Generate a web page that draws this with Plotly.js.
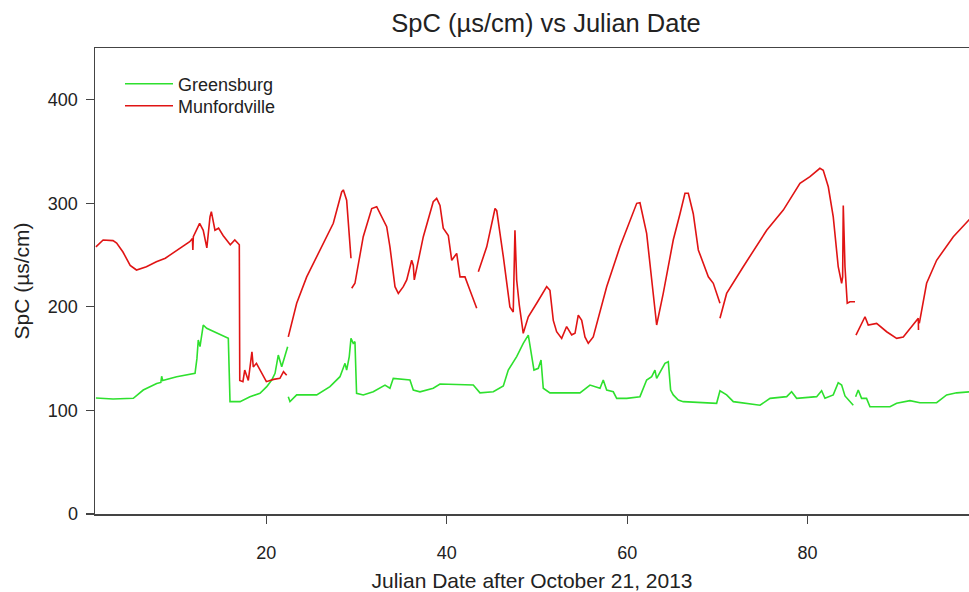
<!DOCTYPE html>
<html>
<head>
<meta charset="utf-8">
<script src="https://cdn.plot.ly/plotly-3.0.1.min.js"></script>
<style>html,body{margin:0;padding:0;background:#fff;overflow:hidden;}</style>
</head>
<body>
<div id="chart" style="width:969px;height:592px;"></div>
<script>
// Julian day after October 21, 2013 (null = gap in record)
const daysGreensburg = [
  1.1, 1.55, 3.0, 5.25, 6.35, 7.84, 8.3, 8.39, 8.5, 10.06, 12.09, 12.3, 12.45, 12.64, 13.0, 13.38, 14.49, 15.78, 15.97, 17.08, 18.18, 19.29, 20.04, 20.59, 20.96, 21.32, 21.7, 22.36,
  null,
  22.43, 22.62, 23.36, 25.58, 27.05, 28.16, 28.72, 28.9, 29.19, 29.38, 29.63, 29.82, 30.0, 30.74, 31.85, 33.15, 33.7, 34.07, 35.92, 36.29, 37.03, 38.5, 39.25, 42.94, 43.68, 45.16, 46.27, 46.82, 47.75, 48.48, 49.04, 49.41, 49.67, 50.15, 50.45, 50.7, 51.44, 54.77, 55.88, 56.99, 57.35, 57.73, 58.46, 58.84, 59.95, 61.42, 62.16, 62.72, 63.08, 63.27, 64.19, 64.56, 64.82, 65.11, 65.67, 66.22, 69.18, 69.92, 70.29, 71.03, 71.77, 74.73, 75.84, 77.69, 78.23, 78.79, 81.01, 81.56, 81.93, 82.85, 83.4, 83.78, 84.15, 85.07,
  null,
  85.33, 85.62, 85.99, 86.54, 86.92, 89.14, 89.88, 91.35, 92.46, 94.31, 95.42, 96.53, 98.0
];
const spcGreensburg = [
  112, 111.7, 111, 111.7, 119.7, 126, 127, 133, 129, 132.6, 135.9, 150, 168, 161.6, 182.5, 179.3, 174.5, 169.6, 108.5, 108.5, 113.3, 116.6, 123, 129.4, 135.9, 153.5, 142.2, 161.6,
  null,
  113.3, 108.5, 115, 115, 123, 132.6, 145.5, 139, 152, 169.6, 164.8, 166.4, 116.6, 115, 118, 124.5, 121.4, 131, 129.4, 119.7, 118, 121.4, 125.5, 124.5, 117, 118, 123.6, 139, 152, 164.8, 172.8, 155, 139, 140.7, 148.7, 121.4, 117, 117, 124.5, 121.4, 129.4, 119.7, 118, 111.7, 111.7, 113.3, 129.4, 132.6, 139, 131, 145.5, 147, 119.7, 115, 110, 108.5, 107.5, 106.9, 119, 115, 108.5, 105, 111.7, 113.3, 118, 111.7, 113.3, 119, 111.7, 115, 126.8, 124.5, 114, 105,
  null,
  113.3, 119.7, 111.7, 111.7, 103.6, 103.6, 106.9, 109.5, 107.5, 107.5, 115, 117, 118
];

const daysMunfordville = [
  1.1, 1.55, 1.9, 3.0, 3.4, 4.1, 4.9, 5.6, 6.7, 7.8, 8.8, 9.3, 10.4, 11.5, 11.8, 11.85, 11.9, 12.6, 13.0, 13.4, 13.75, 13.9, 14.3, 14.7, 15.2, 16.0, 16.5, 16.9, 17.0, 17.05, 17.4, 17.6, 18.0, 18.4, 18.55, 18.9, 19.3, 19.7, 20.0, 20.8, 21.5, 21.9, 22.25,
  null,
  22.43, 23.36, 24.47, 25.94, 27.42, 28.35, 28.53, 28.9, 29.27, 29.38,
  null,
  29.46, 29.82, 30.74, 31.68, 32.23, 32.78, 33.34, 33.7, 34.26, 34.63, 35.18, 35.56, 36.11, 36.29, 36.4, 37.4, 38.5, 38.88, 39.25, 39.61, 40.17, 40.55, 41.1, 41.47, 42.02, 42.57, 43.32,
  null,
  43.5, 44.43, 45.35, 45.54, 46.27, 47.0, 47.37, 47.56, 47.75, 48.04, 48.48, 49.04, 49.97, 51.08, 51.44, 51.81, 52.18, 52.74, 53.29, 53.85, 54.22, 54.58, 54.96, 55.32, 55.69, 56.24, 57.73, 59.2, 61.06, 61.42, 62.16, 63.27, 64.0, 65.11, 65.86, 66.41, 66.78, 67.33, 67.89, 68.44, 69.0, 69.55, 70.29,
  null,
  70.29, 71.03, 72.87, 75.47, 77.31, 79.16, 80.27, 81.37, 81.74, 82.3, 82.85, 83.4, 83.78, 83.89, 83.96, 84.15, 84.4, 84.7, 85.26,
  null,
  85.37, 86.37, 86.73, 87.66, 88.77, 89.88, 90.61, 91.35, 92.28, 92.3,
  null,
  92.39, 93.2, 94.31, 96.16, 98.0
];
const spcMunfordville = [
  258, 262, 264.6, 264, 261.7, 253, 240, 235.6, 238.8, 243.6, 247, 250, 256.6, 263, 266, 255, 267.8, 280.7, 274, 257, 287, 292, 274, 276, 269, 260, 264.6, 261, 260, 129, 127.8, 139, 129, 156.7, 142, 145.5, 139, 132.6, 127.8, 130, 131, 137.4, 134,
  null,
  171, 203.5, 229, 255, 280.7, 311, 313, 303, 255, 247,
  null,
  218, 222.8, 267.8, 295, 296.7, 287, 277.4, 258, 219.5, 213, 219.5, 226, 245, 240, 226, 267.8, 301.6, 304.8, 298, 276, 269, 245, 251.7, 229, 229, 216, 198.6,
  null,
  234, 258, 295, 293, 248.5, 200, 195, 274, 226, 202, 174.5, 190.5, 203.5, 219.5, 216, 187, 176, 169.6, 181, 173, 174.5, 192, 187, 171, 164.8, 171, 219.5, 258, 300, 300.6, 271, 182.5, 213, 264.6, 290, 309.7, 309.7, 290, 255, 242, 229, 222.8, 203.5,
  null,
  189, 213, 238.8, 274, 293.5, 319.3, 325.7, 333.8, 332, 316, 287, 238.8, 222.8, 229, 298, 238.8, 203.5, 205, 205,
  null,
  172.8, 190.5, 182.5, 184, 176, 169.6, 171, 179, 189, 177.7,
  null,
  184, 222.8, 245, 267.8, 285
];

const seriesNames = ["Greensburg", "Munfordville"];
const titleText = "SpC (µs/cm) vs Julian Date";
const xTitle = "Julian Date after October 21, 2013";
const yTitle = "SpC (µs/cm)";
const xTicks = [20, 40, 60, 80, 100];
const yTicks = [0, 100, 200, 300, 400];

const font = "Liberation Sans, Arial, sans-serif";
const traces = [
  {x: daysGreensburg, y: spcGreensburg, name: seriesNames[0], type: "scatter", mode: "lines",
   connectgaps: false, line: {color: "#2ee02e", width: 1.6}, legend: "legend"},
  {x: daysMunfordville, y: spcMunfordville, name: seriesNames[1], type: "scatter", mode: "lines",
   connectgaps: false, line: {color: "#e01414", width: 1.6}, legend: "legend2"}
];

const legendBase = {xanchor: "left", yanchor: "top", bgcolor: "rgba(0,0,0,0)", itemwidth: 48,
                    font: {family: font, size: 18, color: "#222"}};

const layout = {
  width: 969, height: 592,
  margin: {l: 95, r: 0, t: 48, b: 78},
  paper_bgcolor: "#fff", plot_bgcolor: "#fff",
  font: {family: font, color: "#222", size: 18},
  title: {text: titleText, font: {family: font, size: 25.5, color: "#222"},
          xref: "container", x: 546/969, xanchor: "center", yref: "container", y: 1 - 23/592, yanchor: "middle"},
  showlegend: true,
  legend: Object.assign({x: 0.0286, y: 0.9624}, legendBase),
  legend2: Object.assign({x: 0.0286, y: 0.915}, legendBase),
  xaxis: {range: [1, 97.9], tickvals: xTicks, ticks: "outside", ticklen: 8, tickwidth: 1.2, tickcolor: "#444",
          showline: true, linecolor: "#444", linewidth: 1.5, mirror: true, showgrid: false, zeroline: false,
          ticklabelstandoff: 14,
          tickfont: {family: font, size: 18, color: "#222"},
          title: {text: xTitle, font: {family: font, size: 21, color: "#222"}, standoff: 12}},
  yaxis: {range: [0, 450], tickvals: yTicks, ticks: "outside", ticklen: 8, tickwidth: 1.2, tickcolor: "#444",
          showline: true, linecolor: "#444", linewidth: 1.5, mirror: false, showgrid: false, zeroline: false,
          ticklabelstandoff: 4,
          tickfont: {family: font, size: 18, color: "#222"},
          title: {text: yTitle, font: {family: font, size: 21, color: "#222"}, standoff: 12}}
};

Plotly.newPlot("chart", traces, layout, {displayModeBar: false, staticPlot: true});
</script>
</body>
</html>
